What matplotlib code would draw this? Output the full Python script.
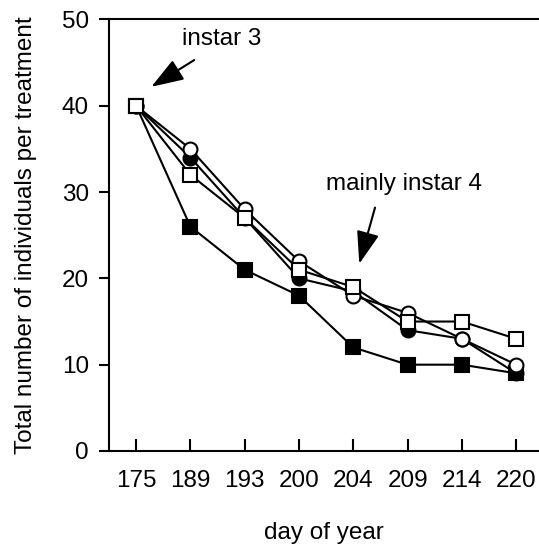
import numpy as np
import matplotlib
matplotlib.use('Agg')
import matplotlib.pyplot as plt

plt.rcParams['font.family'] = ['Liberation Sans', 'DejaVu Sans']

days = ['175', '189', '193', '200', '204', '209', '214', '220']
filled_circle = [40, 34, 27, 20, 18.5, 14, 13, 9]
open_circle = [40, 35, 28, 22, 18, 16, 13, 10]
open_square = [40, 32, 27, 21, 19, 15, 15, 13]
filled_square = [40, 26, 21, 18, 12, 10, 10, 9]

FS = 17.5

fig = plt.figure(figsize=(5.39, 5.52), dpi=100)
ax = fig.add_axes([0.2022, 0.1830, 0.7978, 0.7817])

x = np.arange(len(days))
kw = dict(color='black', lw=1.5, ms=10, mew=1.5, mec='black')
ax.plot(x, filled_square, marker='s', mfc='black', **kw)
ax.plot(x, filled_circle, marker='o', mfc='black', **kw)
ax.plot(x, open_circle, marker='o', mfc='white', **kw)
ax.plot(x, open_square, marker='s', mfc='white', **kw)

ax.set_xlim(-0.50, 7.42)
ax.set_ylim(0, 50)
ax.set_xticks(x)
ax.set_xticklabels(days)
ax.set_yticks([0, 10, 20, 30, 40, 50])

ax.spines['right'].set_visible(False)
for s in ['left', 'bottom', 'top']:
    ax.spines[s].set_linewidth(1.5)

ax.tick_params(axis='y', direction='out', length=7.5, width=1.5, labelsize=FS, pad=7)
ax.tick_params(axis='x', direction='in', length=8.5, width=1.5, labelsize=FS, pad=14)

ax.set_ylabel('Total number of individuals per treatment', fontsize=FS)
ax.yaxis.set_label_coords(-0.167, 0.5)
ax.set_xlabel('day of year', fontsize=FS)
ax.xaxis.set_label_coords(0.5, -0.165)

# annotations
arrow = dict(arrowstyle='-|>,head_length=1.0,head_width=0.35', mutation_scale=20,
             color='black', lw=1.5, shrinkA=0, shrinkB=0)
ax.text(1.58, 47.7, 'instar 3', fontsize=FS, ha='center', va='center')
ax.annotate('', xy=(0.28, 42.2), xytext=(1.07, 45.3), arrowprops=arrow)
ax.text(4.94, 30.9, 'mainly instar 4', fontsize=FS, ha='center', va='center')
ax.annotate('', xy=(4.11, 21.7), xytext=(4.40, 28.2), arrowprops=arrow)

fig.savefig('out.png', dpi=100)
